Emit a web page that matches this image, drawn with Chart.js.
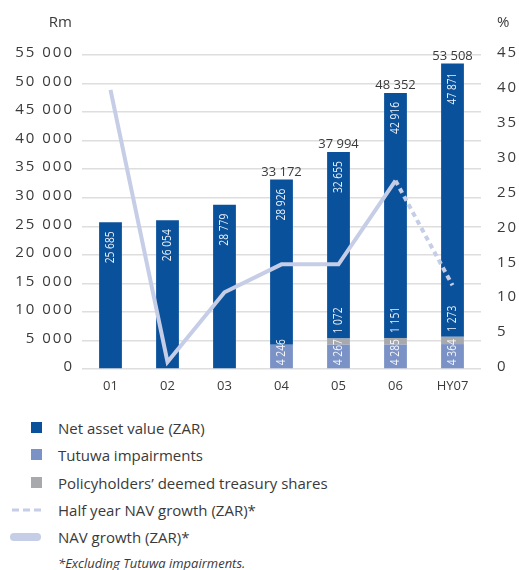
<!DOCTYPE html>
<html>
<head>
<meta charset="utf-8">
<script src="https://cdn.jsdelivr.net/npm/chart.js@4.4.1/dist/chart.umd.min.js"></script>
<style>
  html, body { margin: 0; padding: 0; background: #fff; }
  body { width: 519px; height: 570px; position: relative; overflow: hidden;
         font-family: "Open Sans", sans-serif; color: #3a3a3a; }
  #wrap { position: absolute; left: 0; top: 0; width: 519px; height: 400px; }
  .row { position: absolute; left: 0; height: 20px; width: 519px; }
  .row span.txt { position: absolute; left: 58px; top: 0; font-size: 15px; line-height: 20px; white-space: nowrap; }
  .sq { position: absolute; left: 31px; top: 4px; width: 11px; height: 11px; }
  .note { position: absolute; left: 58px; font-size: 13px; font-style: italic; line-height: 18px; }
</style>
</head>
<body>
<div id="wrap"><canvas id="chart" width="519" height="400"></canvas></div>

<div class="row" style="top:418px"><div class="sq" style="background:#0a519c"></div><span class="txt">Net asset value (ZAR)</span></div>
<div class="row" style="top:445px"><div class="sq" style="background:#7b92c6"></div><span class="txt">Tutuwa impairments</span></div>
<div class="row" style="top:473px"><div class="sq" style="background:#a7a9ac"></div><span class="txt">Policyholders’ deemed treasury shares</span></div>
<div class="row" style="top:500px">
  <svg style="position:absolute;left:11px;top:8px" width="32" height="4"><line x1="1" y1="2" x2="30" y2="2" stroke="#c6cde6" stroke-width="3" stroke-dasharray="7 4"/></svg>
  <span class="txt">Half year NAV growth (ZAR)*</span></div>
<div class="row" style="top:527px">
  <div style="position:absolute;left:10px;top:6px;width:31px;height:8px;border-radius:4px;background:#c6cde6"></div>
  <span class="txt">NAV growth (ZAR)*</span></div>
<div class="note" style="top:554px">*Excluding Tutuwa impairments.</div>

<script>
// NAV chart: stacked bars (Rm, left axis) + growth lines (%, right axis)

const categories     = ["01", "02", "03", "04", "05", "06", "HY07"];
const navValues      = [25685, 26054, 28779, 28926, 32655, 42916, 47871];
const tutuwaValues   = [null, null, null, 4246, 4267, 4285, 4364];
const treasuryValues = [null, null, null, null, 1072, 1151, 1273];
const navGrowth      = [40, 1, 11, 15, 15, 27, null];
const halfYearGrowth = [null, null, null, null, null, 27, 12];

const FONT = '"Open Sans", sans-serif';
const TEXT = "#3a3a3a";
const LINE = "#c6cde6";

function fmt(n) {
  return String(n).replace(/\B(?=(\d{3})+(?!\d))/g, " ");
}

// rotated (bottom-to-top) label, slightly condensed
function vText(ctx, text, x, y, align) {
  ctx.save();
  ctx.translate(x, y);
  ctx.rotate(-Math.PI / 2);
  ctx.scale(0.82, 1);
  ctx.textAlign = align;
  ctx.textBaseline = "middle";
  ctx.fillText(text, 0, 0);
  ctx.restore();
}

const labelsPlugin = {
  id: "barLabels",
  beforeDraw(chart) {
    chart.ctx.letterSpacing = "2px";   // y axis tick labels are spaced wide
  },
  beforeDatasetsDraw(chart) {
    chart.ctx.letterSpacing = "0px";
  },
  afterDatasetsDraw(chart) {
    const ctx = chart.ctx;
    const tut = chart.getDatasetMeta(0).data;
    const tre = chart.getDatasetMeta(1).data;
    const nav = chart.getDatasetMeta(2).data;

    ctx.save();
    ctx.fillStyle = "rgba(255,255,255,0.92)";
    ctx.font = "12.5px " + FONT;
    nav.forEach((el, i) => {
      vText(ctx, fmt(navValues[i]), el.x, el.y + 9, "right");
      if (treasuryValues[i] != null) {
        vText(ctx, fmt(treasuryValues[i]), el.x, tre[i].y - 5, "left");
      }
      if (tutuwaValues[i] != null) {
        vText(ctx, fmt(tutuwaValues[i]), el.x, tut[i].base - 3, "left");
      }
    });

    // totals above stacked bars
    ctx.fillStyle = TEXT;
    ctx.font = "13px " + FONT;
    ctx.textAlign = "center";
    ctx.textBaseline = "alphabetic";
    nav.forEach((el, i) => {
      if (tutuwaValues[i] == null) return;
      const total = navValues[i] + tutuwaValues[i] + (treasuryValues[i] || 0);
      ctx.fillText(fmt(total), el.x, el.y - 4);
    });

    // axis unit titles
    ctx.font = "15px " + FONT;
    ctx.textBaseline = "middle";
    ctx.textAlign = "right";
    ctx.fillText("Rm", 72, 23);
    ctx.textAlign = "left";
    ctx.fillText("%", 497, 23);
    ctx.restore();
  }
};

new Chart(document.getElementById("chart"), {
  type: "bar",
  data: {
    labels: categories,
    datasets: [
      { label: "Tutuwa impairments", data: tutuwaValues, backgroundColor: "#7b92c6",
        order: 1, barPercentage: 0.4, categoryPercentage: 1 },
      { label: "Policyholders’ deemed treasury shares", data: treasuryValues, backgroundColor: "#a7a9ac",
        order: 1, barPercentage: 0.4, categoryPercentage: 1 },
      { label: "Net asset value (ZAR)", data: navValues, backgroundColor: "#0a519c",
        order: 1, barPercentage: 0.4, categoryPercentage: 1 },
      { type: "line", label: "NAV growth (ZAR)*", data: navGrowth, yAxisID: "y1",
        borderColor: LINE, borderWidth: 4, pointRadius: 0, tension: 0, order: 0 },
      { type: "line", label: "Half year NAV growth (ZAR)*", data: halfYearGrowth, yAxisID: "y1",
        borderColor: LINE, borderWidth: 4, borderDash: [5, 4], pointRadius: 0, tension: 0, order: 0 },
    ],
  },
  options: {
    responsive: false,
    animation: false,
    devicePixelRatio: 1,
    layout: { padding: { top: 55, left: 0, right: 0, bottom: 0 } },
    plugins: { legend: { display: false }, tooltip: { enabled: false } },
    scales: {
      x: {
        stacked: true,
        grid: { display: false, drawTicks: false },
        border: { display: false },
        ticks: { z: 1, color: TEXT, font: { family: FONT, size: 13 }, padding: 9 },
        afterFit(s) { s.height = 31; },
      },
      y: {
        stacked: true,
        position: "left",
        min: 0, max: 55000,
        grid: { color: "#dedede", lineWidth: 1.5, drawTicks: false },
        border: { display: false },
        ticks: { stepSize: 5000, color: TEXT, font: { family: FONT, size: 15 },
                 padding: 8, labelOffset: -2, callback: v => fmt(v) },
        afterFit(s) { s.width = 82; },
      },
      y1: {
        position: "right",
        min: 0, max: 45,
        grid: { display: false, drawTicks: false },
        border: { display: false },
        ticks: { stepSize: 5, color: TEXT, font: { family: FONT, size: 15 },
                 padding: 16, labelOffset: -2 },
        afterFit(s) { s.width = 38; },
      },
    },
  },
  plugins: [labelsPlugin],
});
</script>
</body>
</html>
